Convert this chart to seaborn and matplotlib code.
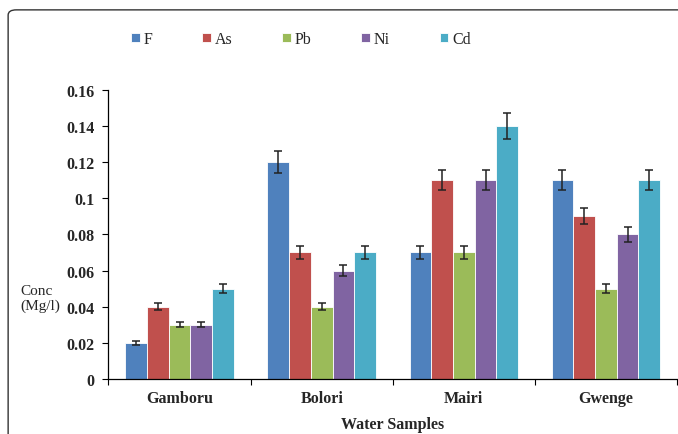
import numpy as np
import pandas as pd
import matplotlib
matplotlib.use("Agg")
import matplotlib.pyplot as plt
from matplotlib.patches import FancyBboxPatch
import seaborn as sns

# Sample sites and measured elements
sites = ["Gamboru", "Bolori", "Mairi", "Gwenge"]
elements = ["F", "As", "Pb", "Ni", "Cd"]

# Mean concentrations (Mg/l) per element, one value per site
conc_F = [0.02, 0.12, 0.07, 0.11]
conc_As = [0.04, 0.07, 0.11, 0.09]
conc_Pb = [0.03, 0.04, 0.07, 0.05]
conc_Ni = [0.03, 0.06, 0.11, 0.08]
conc_Cd = [0.05, 0.07, 0.14, 0.11]

# Error bar half-lengths per element
err_F = [0.001, 0.006, 0.0035, 0.0055]
err_As = [0.002, 0.0035, 0.0055, 0.0045]
err_Pb = [0.0015, 0.002, 0.0035, 0.0025]
err_Ni = [0.0015, 0.003, 0.0055, 0.004]
err_Cd = [0.0025, 0.0035, 0.007, 0.0055]

y_ticks = [0, 0.02, 0.04, 0.06, 0.08, 0.1, 0.12, 0.14, 0.16]
y_tick_labels = ["0", "0.02", "0.04", "0.06", "0.08", "0.1", "0.12", "0.14", "0.16"]

colors = ["#4F81BD", "#C0504D", "#9BBB59", "#8064A2", "#4BACC6"]

values = [conc_F, conc_As, conc_Pb, conc_Ni, conc_Cd]
errors = [err_F, err_As, err_Pb, err_Ni, err_Cd]

df = pd.DataFrame({
    "site": [s for _ in elements for s in sites],
    "element": [e for e in elements for _ in sites],
    "conc": [v for vals in values for v in vals],
})

sns.set_style("white")
plt.rcParams["font.family"] = ["Liberation Serif", "DejaVu Serif"]

fig = plt.figure(figsize=(6.78, 4.35), dpi=100)
ax = fig.add_axes([0.160, 0.1264, 0.8385, 0.665])

sns.barplot(data=df, x="site", y="conc", hue="element", order=sites,
            hue_order=elements, palette=colors, errorbar=None, width=0.764,
            saturation=1, edgecolor="white", linewidth=0.6, ax=ax)

# Error bars centred on each drawn bar
for cont, errs in zip(ax.containers, errors):
    for bar, e in zip(cont, errs):
        cx = bar.get_x() + bar.get_width() / 2
        ax.errorbar(cx, bar.get_height(), yerr=e, fmt="none",
                    ecolor="#222222", elinewidth=1.1, capsize=3, capthick=1.1,
                    zorder=5)

ax.set_ylim(0, 0.16)
ax.set_xlim(-0.5, 3.5)
ax.set_yticks(y_ticks)
ax.set_yticklabels(y_tick_labels, fontsize=11.5, fontweight="bold")
ax.set_xticks(range(len(sites)))
ax.set_xticklabels(sites, fontsize=11.5, fontweight="bold")
ax.set_xticks([-0.5, 0.5, 1.5, 2.5, 3.5], minor=True)
ax.tick_params(axis="x", which="major", length=0, pad=8)
ax.tick_params(axis="x", which="minor", length=4, width=0.8, direction="out",
               color="black", bottom=True)
ax.tick_params(axis="y", length=4, width=0.8, direction="out", color="black",
               left=True, pad=6)

for side in ["top", "right"]:
    ax.spines[side].set_visible(False)
for side in ["left", "bottom"]:
    ax.spines[side].set_color("black")
    ax.spines[side].set_linewidth(0.9)

ax.set_xlabel("Water Samples", fontsize=11.5, fontweight="bold", labelpad=7)
ax.set_ylabel("")
fig.text(0.030, 0.312, "Conc\n(Mg/l)", fontsize=11, ha="left", va="center",
         linespacing=1.15)

handles, labels = ax.get_legend_handles_labels()
fig.legend(handles, labels, loc="center", bbox_to_anchor=(0.444, 0.908),
           bbox_transform=fig.transFigure,
           ncol=5, frameon=False, fontsize=11.5, handlelength=0.55,
           handleheight=0.55, handletextpad=0.25, columnspacing=3.1)
ax.get_legend().remove()

# Rounded frame around the chart area
frame = FancyBboxPatch((0.012, -0.2), 1.2, 1.175,
                       boxstyle="round,pad=0,rounding_size=0.012",
                       transform=fig.transFigure, fill=False,
                       edgecolor="#333333", linewidth=1.0, clip_on=False)
fig.patches.append(frame)

fig.savefig("out.png", dpi=100)
